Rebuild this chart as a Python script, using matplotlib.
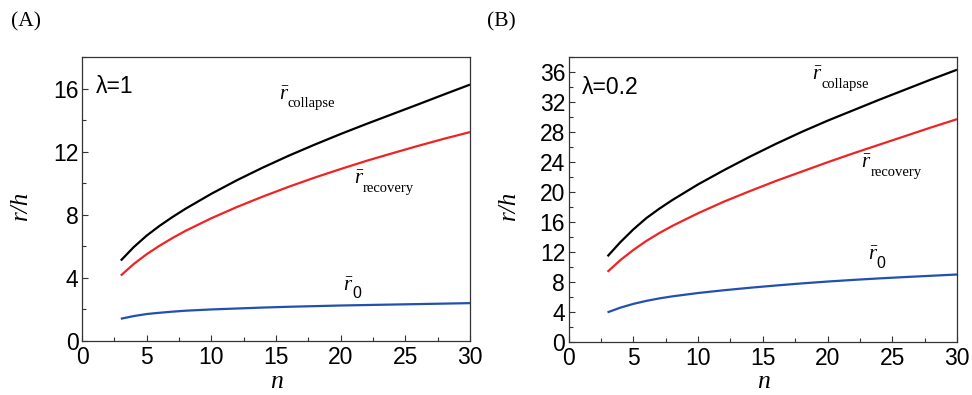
import matplotlib
matplotlib.use("Agg")
import matplotlib.pyplot as plt
from matplotlib.ticker import MultipleLocator

plt.rcParams["mathtext.fontset"] = "custom"
plt.rcParams["mathtext.rm"] = "Liberation Serif"
plt.rcParams["mathtext.it"] = "Liberation Serif:italic"

# number of units n
n = [3, 4, 5, 6, 7, 8, 10, 12, 14, 16, 18, 20, 22, 24, 26, 28, 30]

# lambda = 1
a_collapse = [5.1, 5.95, 6.68, 7.3, 7.86, 8.38, 9.33, 10.2, 11.0, 11.75, 12.45,
              13.12, 13.76, 14.38, 15.0, 15.63, 16.25]
a_recovery = [4.15, 4.88, 5.5, 6.04, 6.53, 6.98, 7.78, 8.5, 9.16, 9.78, 10.36,
              10.9, 11.42, 11.9, 12.37, 12.82, 13.24]
a_r0 = [1.41, 1.58, 1.71, 1.79, 1.86, 1.92, 2.0, 2.06, 2.12, 2.17, 2.21,
        2.25, 2.28, 2.31, 2.34, 2.37, 2.40]

# lambda = 0.2
b_collapse = [11.4, 13.3, 15.0, 16.5, 17.75, 18.9, 21.0, 22.9, 24.7, 26.4, 28.0,
              29.5, 30.9, 32.3, 33.65, 35.0, 36.3]
b_recovery = [9.33, 10.9, 12.25, 13.45, 14.5, 15.45, 17.15, 18.7, 20.1, 21.45,
              22.7, 23.95, 25.15, 26.3, 27.45, 28.6, 29.7]
b_r0 = [3.92, 4.55, 5.05, 5.45, 5.78, 6.05, 6.5, 6.87, 7.2, 7.5, 7.78, 8.03,
        8.25, 8.45, 8.63, 8.8, 8.97]

x_ticks = [0, 5, 10, 15, 20, 25, 30]
subscripts = ["collapse", "recovery", "0"]

BLACK = "#000000"
RED = "#ee2424"
BLUE = "#2150b0"

SANS = "Liberation Sans"
SERIF = "Liberation Serif"

fig = plt.figure(figsize=(9.72, 3.95), dpi=100)


def style_axes(ax, ymax, ymajor):
    ax.set_xlim(0, 30)
    ax.set_ylim(0, ymax)
    ax.set_xticks(x_ticks)
    ax.xaxis.set_minor_locator(MultipleLocator(2.5))
    ax.yaxis.set_major_locator(MultipleLocator(ymajor))
    ax.yaxis.set_minor_locator(MultipleLocator(ymajor / 2))
    ax.tick_params(which="both", direction="in", top=False, right=False,
                   color="#333333", width=0.8)
    ax.tick_params(which="major", length=4.5, labelsize=16.5)
    ax.tick_params(axis="x", which="major", pad=3.5)
    ax.tick_params(axis="y", which="major", pad=2.5)
    ax.tick_params(which="minor", length=3)
    for lab in ax.get_xticklabels() + ax.get_yticklabels():
        lab.set_fontfamily(SANS)
    for sp in ax.spines.values():
        sp.set_linewidth(0.9)
        sp.set_color("#333333")


panels = [
    dict(rect=[82 / 972, 54 / 395, 388 / 972, 284 / 395], ymax=18, ymajor=4,
         data=(a_collapse, a_recovery, a_r0), lam="λ=1", tag="(A)", tagx=11,
         ylabx=21, xlabx=277,
         lbl=[(15.2, 15.3), (21.0, 9.95), (20.2, 3.2)]),
    dict(rect=[568.7 / 972, 53.3 / 395, 388.3 / 972, 284.7 / 395], ymax=38, ymajor=4,
         data=(b_collapse, b_recovery, b_r0), lam="λ=0.2", tag="(B)", tagx=487,
         ylabx=509, xlabx=764,
         lbl=[(18.8, 34.9), (22.6, 23.2), (23.1, 10.9)]),
]

for p in panels:
    ax = fig.add_axes(p["rect"])
    col, rec, r0 = p["data"]
    ax.plot(n, col, color=BLACK, lw=1.6, solid_capstyle="butt")
    ax.plot(n, rec, color=RED, lw=1.6, solid_capstyle="butt")
    ax.plot(n, r0, color=BLUE, lw=1.6, solid_capstyle="butt")
    style_axes(ax, p["ymax"], p["ymajor"])

    for (lx, ly), sub in zip(p["lbl"], subscripts):
        ax.text(lx, ly, r"$\bar{r}$", fontsize=15, ha="left", va="baseline")
        sub_font = SANS if sub == "0" else SERIF
        sub_size = 11.5 if sub == "0" else 10.5
        ax.annotate(sub, xy=(lx, ly), xytext=(6.5, -5.5),
                    textcoords="offset points", fontsize=sub_size,
                    family=sub_font, ha="left", va="baseline")

    ax.text(0.035, 0.935, p["lam"], transform=ax.transAxes, fontsize=16.5,
            family=SANS, ha="left", va="top")

    fig.text(p["tagx"] / 972, 1 - 22 / 395, p["tag"], fontsize=15.5,
             family=SERIF, ha="left", va="center")
    fig.text(p["ylabx"] / 972, 1 - 205 / 395, "r/h", fontsize=18, family=SERIF,
             style="italic", rotation=90, ha="center", va="center")
    fig.text(p["xlabx"] / 972, 1 - 388.5 / 395, "n", fontsize=18.5, family=SERIF,
             style="italic", ha="center", va="baseline")

fig.savefig("out.png", dpi=100)
